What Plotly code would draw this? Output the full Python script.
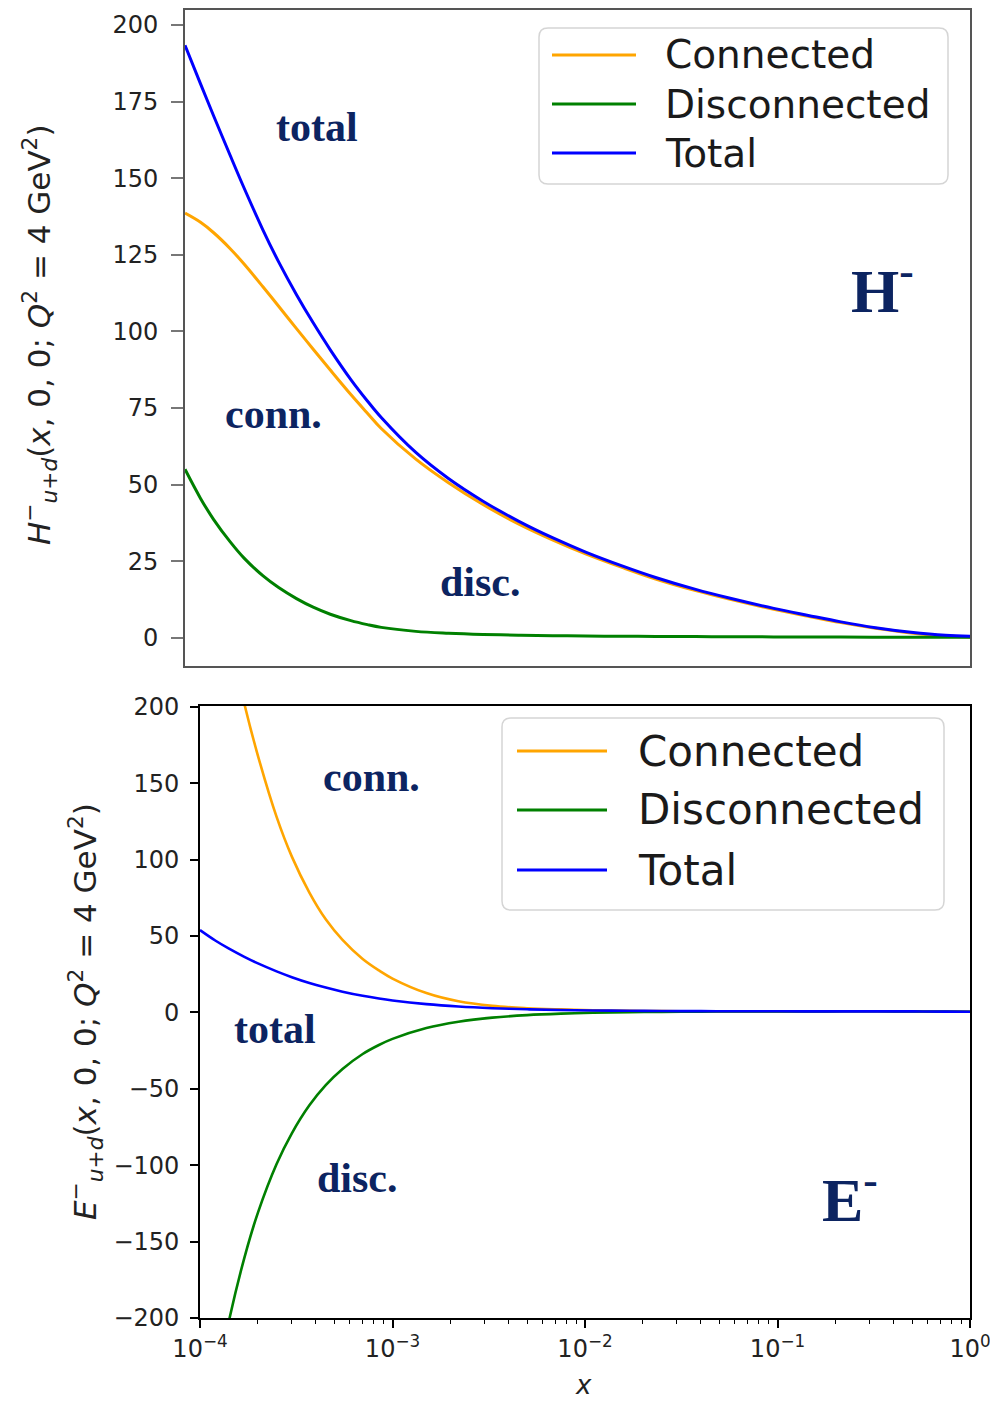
import plotly.graph_objects as go

# Shared momentum-fraction grid (x)
x_vals = [1.0e-4, 1.2e-4, 1.4e-4, 1.7e-4, 2.0e-4, 2.5e-4, 3.0e-4, 3.7e-4, 4.5e-4, 5.5e-4,
          7.0e-4, 8.5e-4, 1.0e-3, 1.5e-3, 2.2e-3, 3.3e-3, 5.0e-3, 7.5e-3, 1.1e-2, 1.7e-2,
          2.5e-2, 4.0e-2, 6.0e-2, 0.1, 0.15, 0.22, 0.33, 0.5, 0.75, 1.0]

# H^-_{u+d}(x, 0, 0; Q^2 = 4 GeV^2)
h_connected = [138.6, 135.6, 132.2, 127.0, 122.0, 114.5, 108.2, 100.9, 94.2, 87.4,
               79.4, 73.3, 68.3, 58.3, 50.6, 43.5, 37.2, 31.9, 27.4, 22.9,
               19.2, 15.4, 12.55, 9.3, 7.0, 4.95, 3.1, 1.6, 0.6, 0.3]
h_disconnected = [55.0, 45.5, 38.6, 31.3, 26.0, 20.2, 16.4, 12.8, 10.0, 7.7,
                  5.6, 4.3, 3.4, 2.1, 1.5, 1.1, 0.85, 0.7, 0.6, 0.5,
                  0.45, 0.4, 0.35, 0.3, 0.28, 0.25, 0.22, 0.2, 0.2, 0.2]
h_total = [193.4, 180.8, 170.3, 157.4, 146.8, 133.0, 122.7, 112.0, 102.8, 94.0,
           84.3, 77.3, 71.9, 60.5, 52.0, 44.6, 38.1, 32.6, 28.0, 23.4,
           19.7, 15.8, 12.9, 9.6, 7.3, 5.2, 3.3, 1.8, 0.8, 0.5]

# E^-_{u+d}(x, 0, 0; Q^2 = 4 GeV^2)
e_connected = [340.0, 290.0, 250.0, 202.0, 168.0, 128.0, 102.0, 78.5, 61.0, 47.5,
               35.0, 27.5, 22.2, 12.7, 7.3, 4.3, 2.8, 2.0, 1.45, 1.05,
               0.85, 0.75, 0.7, 0.7, 0.72, 0.75, 0.75, 0.7, 0.55, 0.45]
e_disconnected = [-310.0, -247.5, -204.3, -160.6, -131.0, -99.2, -79.1, -60.8, -47.6, -37.0,
                  -27.2, -21.3, -17.3, -10.2, -6.1, -3.4, -1.75, -0.79, -0.22, 0.16,
                  0.39, 0.55, 0.65, 0.7, 0.72, 0.75, 0.75, 0.7, 0.55, 0.45]
e_total = [53.9, 47.1, 42.1, 36.4, 32.1, 26.9, 23.1, 19.3, 16.3, 13.6,
           10.9, 9.1, 7.85, 5.45, 3.9, 2.8, 2.06, 1.59, 1.3, 1.08,
           0.95, 0.85, 0.8, 0.76, 0.74, 0.74, 0.73, 0.7, 0.55, 0.45]

series_names = ["Connected", "Disconnected", "Total"]
series_colors = ["orange", "green", "blue"]

h_ticks = [0, 25, 50, 75, 100, 125, 150, 175, 200]
e_ticks = [-200, -150, -100, -50, 0, 50, 100, 150, 200]
x_ticks = [1e-4, 1e-3, 1e-2, 1e-1, 1e0]
x_ticktext = ["10<sup>−4</sup>", "10<sup>−3</sup>", "10<sup>−2</sup>", "10<sup>−1</sup>", "10<sup>0</sup>"]

W, H = 990, 1402


def px(x):
    return x / W


def py(y):
    return 1 - y / H


fig = go.Figure()

for name, color, vals in zip(series_names, series_colors, [h_connected, h_disconnected, h_total]):
    fig.add_trace(go.Scatter(x=x_vals, y=vals, mode="lines", name=name,
                             line=dict(color=color, width=3, shape="spline", smoothing=1.0),
                             xaxis="x", yaxis="y", showlegend=False))

for name, color, vals in zip(series_names, series_colors, [e_connected, e_disconnected, e_total]):
    fig.add_trace(go.Scatter(x=x_vals, y=vals, mode="lines", name=name,
                             line=dict(color=color, width=2.6, shape="spline", smoothing=1.0),
                             xaxis="x2", yaxis="y2", showlegend=False))

tick_font = dict(family="DejaVu Sans", size=24, color="#222222")
minor_vals = [k * 10.0 ** e for e in range(-4, 0) for k in range(2, 10)]

fig.update_layout(
    width=W, height=H,
    margin=dict(l=0, r=0, t=0, b=0, autoexpand=False),
    paper_bgcolor="white", plot_bgcolor="white",
    xaxis=dict(domain=[px(185), px(970)], type="log", range=[-4, 0], anchor="y",
               showticklabels=False, ticks="", showgrid=False, zeroline=False, automargin=False,
               showline=True, linecolor="#555555", linewidth=2, mirror=True),
    yaxis=dict(domain=[py(666), py(10)], range=[-9.2, 204.9], anchor="x", automargin=False,
               tickvals=h_ticks, ticks="outside", ticklen=12, tickwidth=2, tickcolor="#777777",
               ticklabelstandoff=8, tickfont=tick_font,
               showgrid=False, zeroline=False,
               showline=True, linecolor="#555555", linewidth=2, mirror=True),
    xaxis2=dict(domain=[px(200), px(970)], type="log", range=[-4, 0], anchor="y2", automargin=False,
                tickvals=x_ticks, ticktext=x_ticktext, ticks="outside", ticklen=8, tickwidth=1.5,
                tickcolor="black", tickfont=tick_font, ticklabeloverflow="allow",
                minor=dict(tickvals=minor_vals, ticks="outside", ticklen=4, tickwidth=1.2,
                           tickcolor="black", showgrid=False),
                showgrid=False, zeroline=False,
                showline=True, linecolor="black", linewidth=1.8, mirror=True),
    yaxis2=dict(domain=[py(1318), py(706)], range=[-200, 200.6], anchor="x2", automargin=False,
                tickvals=e_ticks, ticktext=[str(t).replace("-", "−") for t in e_ticks],
                ticks="outside", ticklen=8, tickwidth=1.5, tickcolor="black",
                ticklabelstandoff=6, tickfont=tick_font,
                showgrid=False, zeroline=False,
                showline=True, linecolor="black", linewidth=1.8, mirror=True),
)


def rounded_box(x0, y0, x1, y1, r):
    # rounded rectangle path in paper coordinates, given pixel corners
    rx, ry = r / W, r / H
    X0, X1 = px(x0), px(x1)
    Y0, Y1 = py(y0), py(y1)  # Y0 is top
    return (f"M {X0 + rx},{Y0} L {X1 - rx},{Y0} Q {X1},{Y0} {X1},{Y0 - ry} "
            f"L {X1},{Y1 + ry} Q {X1},{Y1} {X1 - rx},{Y1} "
            f"L {X0 + rx},{Y1} Q {X0},{Y1} {X0},{Y1 + ry} "
            f"L {X0},{Y0 - ry} Q {X0},{Y0} {X0 + rx},{Y0} Z")


shapes = []
annotations = []


def add_legend(box, line_x, rows, text_x, font_size, line_w):
    shapes.append(dict(type="path", xref="paper", yref="paper", path=rounded_box(*box, 9),
                       line=dict(color="#d5d5d5", width=1.5), fillcolor="rgba(255,255,255,0.85)"))
    for (name, color), ry in zip(zip(series_names, series_colors), rows):
        shapes.append(dict(type="line", xref="paper", yref="paper",
                           x0=px(line_x[0]), x1=px(line_x[1]), y0=py(ry), y1=py(ry),
                           line=dict(color=color, width=line_w)))
        annotations.append(dict(xref="paper", yref="paper", x=px(text_x), y=py(ry),
                                xanchor="left", yanchor="middle", text=name, showarrow=False,
                                font=dict(family="DejaVu Sans", size=font_size, color="#1a1a1a")))


add_legend((539, 28, 948, 184), (552, 636), [55, 104, 153], 663, 39, 3.2)
add_legend((502, 718, 944, 910), (517, 607), [751, 810, 870], 636, 42, 3.0)

label_font = dict(family="Liberation Serif", size=42, color="#0c2461")
big_font = dict(family="Liberation Serif", size=62, color="#0c2461")

# (text, center x, baseline y, font)
panel_labels = [
    ("<b>total</b>", 317, 143, label_font),
    ("<b>conn.</b>", 273, 430, label_font),
    ("<b>disc.</b>", 480, 598, label_font),
    ("<b>H<sup>-</sup></b>", 882, 310, big_font),
    ("<b>conn.</b>", 371, 793, label_font),
    ("<b>total</b>", 275, 1045, label_font),
    ("<b>disc.</b>", 357, 1194, label_font),
    ("<b>E<sup>-</sup></b>", 850, 1219, big_font),
]
for text, cx, base, f in panel_labels:
    annotations.append(dict(xref="paper", yref="paper", x=px(cx), y=py(base - 0.38 * f["size"]),
                            xanchor="center", yanchor="middle", text=text, showarrow=False, font=f))

title_font = dict(family="DejaVu Sans", size=31, color="#222222")
annotations.append(dict(
    xref="paper", yref="paper", x=px(40), y=py(335), textangle=-90, showarrow=False,
    xanchor="center", yanchor="middle", font=title_font,
    text="<i>H</i><sup>−</sup><sub><i>u</i>+<i>d</i></sub>(<i>x</i>, 0, 0; <i>Q</i><sup>2</sup> = 4 GeV<sup>2</sup>)"))
annotations.append(dict(
    xref="paper", yref="paper", x=px(85), y=py(1012), textangle=-90, showarrow=False,
    xanchor="center", yanchor="middle", font=title_font,
    text="<i>E</i><sup>−</sup><sub><i>u</i>+<i>d</i></sub>(<i>x</i>, 0, 0; <i>Q</i><sup>2</sup> = 4 GeV<sup>2</sup>)"))
annotations.append(dict(
    xref="paper", yref="paper", x=px(583), y=0, showarrow=False,
    xanchor="center", yanchor="bottom", font=dict(family="DejaVu Sans", size=26, color="#222222"),
    text="<i>x</i>"))

fig.update_layout(shapes=shapes, annotations=annotations)

fig.write_html("out.html")
